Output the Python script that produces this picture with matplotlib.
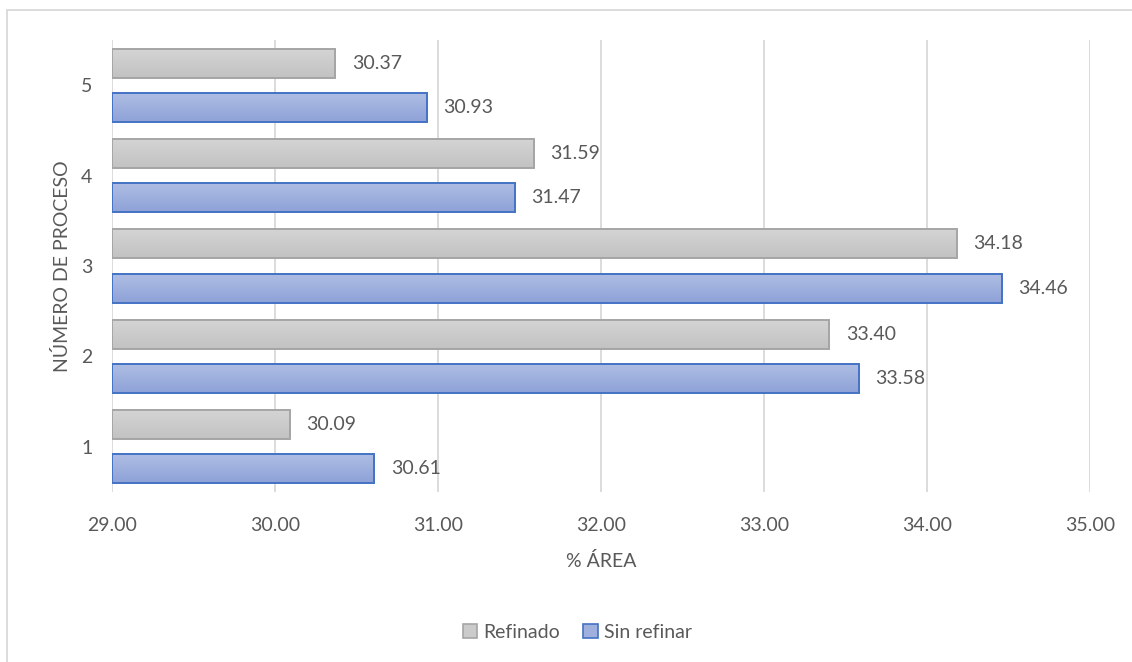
import numpy as np
import matplotlib.pyplot as plt
from matplotlib.colors import to_rgb
from matplotlib.patches import Rectangle

plt.rcParams['font.family'] = ['Lato', 'DejaVu Sans']

procesos = ['1', '2', '3', '4', '5']
refinado = [30.09, 33.40, 34.18, 31.59, 30.37]
sin_refinar = [30.61, 33.58, 34.46, 31.47, 30.93]
x_ticks = [29, 30, 31, 32, 33, 34, 35]

txt = '#595959'
fs = 14
bar_h = 0.32
off = 0.245

fig = plt.figure(figsize=(11.32, 6.62), dpi=100)
ax = fig.add_axes([0.0989, 0.2568, 0.8642, 0.6828])

# outer chart frame (only top and left edges fall inside the image)
fig.patches.append(Rectangle((7 / 1132, -0.1), 1.2, 1 - 10 / 662 + 0.1,
                             transform=fig.transFigure, fill=False,
                             edgecolor='#d9d9d9', lw=1.3))


def grad_bar(yc, val, top, bottom, edge):
    # vertical gradient fill, lighter at the top
    g = np.linspace(0, 1, 50)[:, None, None]
    img = np.array(to_rgb(top)) * (1 - g) + np.array(to_rgb(bottom)) * g
    ax.imshow(img, extent=[29, val, yc - bar_h / 2, yc + bar_h / 2],
              aspect='auto', zorder=2, interpolation='bilinear')
    ax.add_patch(Rectangle((29, yc - bar_h / 2), val - 29, bar_h,
                           fill=False, edgecolor=edge, lw=1.4, zorder=3))


y = np.arange(1, len(procesos) + 1)
for i in range(len(procesos)):
    grad_bar(y[i] + off, refinado[i], '#d4d4d4', '#c2c2c2', '#a5a5a5')
    grad_bar(y[i] - off, sin_refinar[i], '#aebde3', '#8ea2d8', '#4472c4')
    ax.text(refinado[i] + 0.1, y[i] + off, '%.2f' % refinado[i],
            va='center', ha='left', color=txt, fontsize=fs)
    ax.text(sin_refinar[i] + 0.1, y[i] - off, '%.2f' % sin_refinar[i],
            va='center', ha='left', color=txt, fontsize=fs)

ax.set_xlim(29, 35)
ax.set_ylim(0.5, 5.5)
ax.set_yticks(y)
ax.set_yticklabels(procesos)
ax.set_xticks(x_ticks)
ax.set_xticklabels(['%.2f' % v for v in x_ticks])
ax.tick_params(length=0, colors=txt, labelsize=fs)
ax.tick_params(axis='x', pad=18)
ax.tick_params(axis='y', pad=14)
ax.grid(axis='x', color='#d9d9d9', lw=1.3, zorder=0)
ax.set_axisbelow(True)
for s in ax.spines.values():
    s.set_visible(False)

ax.set_xlabel('% ÁREA', color=txt, fontsize=fs, labelpad=13)
ax.set_ylabel('NÚMERO DE PROCESO', color=txt, fontsize=fs, labelpad=7)

h1 = Rectangle((0, 0), 1, 1, facecolor='#cbcbcb', edgecolor='#a5a5a5', lw=1.2)
h2 = Rectangle((0, 0), 1, 1, facecolor='#9fb0de', edgecolor='#4472c4', lw=1.2)
fig.legend([h1, h2], ['Refinado', 'Sin refinar'], loc='center',
           bbox_to_anchor=(0.51, 1 - 632 / 662), ncol=2, frameon=False,
           fontsize=fs, labelcolor=txt, handlelength=0.75, handleheight=0.75,
           handletextpad=0.3, columnspacing=1.2)

fig.savefig('out.png', dpi=100)
